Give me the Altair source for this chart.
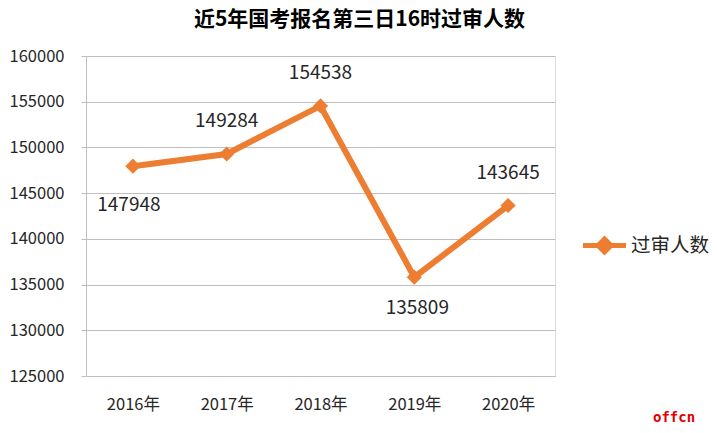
import altair as alt
import pandas as pd

years = ["2016年", "2017年", "2018年", "2019年", "2020年"]
values = [147948, 149284, 154538, 135809, 143645]
label_pos = ["below_left", "above", "above", "below", "above"]
series_name = "过审人数"
title_text = "近5年国考报名第三日16时过审人数"
y_ticks = [125000, 130000, 135000, 140000, 145000, 150000, 155000, 160000]

df = pd.DataFrame({"year": years, "value": values, "pos": label_pos,
                   "series": [series_name] * len(years)})

FONT = "Noto Sans CJK SC"
ORANGE = "#ED7D31"
TXT = "#262626"

base = alt.Chart(df)

x_enc = alt.X("year:N", sort=years, title=None,
              scale=alt.Scale(paddingInner=0, paddingOuter=0.5),
              axis=alt.Axis(labelAngle=0, labelFontSize=16.5, labelFont=FONT,
                            labelColor=TXT, ticks=False, domain=True,
                            domainColor="#BFBFBF", labelPadding=20, grid=False))
y_enc = alt.Y("value:Q", title=None,
              scale=alt.Scale(domain=[125000, 160000], nice=False, zero=False),
              axis=alt.Axis(values=y_ticks, labelFontSize=16.5, labelFont=FONT,
                            labelColor=TXT, tickSize=5, tickColor="#BFBFBF",
                            domainColor="#BFBFBF", gridColor="#BFBFBF",
                            labelPadding=17, format="d"))

line = base.mark_line(color=ORANGE, strokeWidth=6).encode(
    x=x_enc, y=y_enc,
    color=alt.Color("series:N", title=None,
                    scale=alt.Scale(range=[ORANGE]),
                    legend=alt.Legend(orient="none", legendX=494, legendY=165,
                                      symbolType="M-1,0L1,0M0,-0.3L0.3,0L0,0.3L-0.3,0Z",
                                      symbolSize=1850, symbolStrokeWidth=5,
                                      symbolFillColor=ORANGE,
                                      labelFontSize=19.5, labelFont=FONT,
                                      labelColor=TXT, labelOffset=2)))
pts = base.mark_point(shape="diamond", filled=True, size=230, color=ORANGE,
                      opacity=1).encode(x=x_enc, y=y_enc)

def labels(pos, dx, dy):
    return base.transform_filter(alt.datum.pos == pos).mark_text(
        dx=dx, dy=dy, fontSize=19, font=FONT, color=TXT).encode(
        x=x_enc, y=y_enc, text=alt.Text("value:Q", format="d"))

above = labels("above", 0, -33)
below = labels("below", 3, 31)
below_left = labels("below_left", -4, 39)

mark_wm = alt.Chart(pd.DataFrame({"t": ["offcn"]})).mark_text(
    color="#E00000", fontSize=14, font="DejaVu Sans Mono", fontWeight="bold",
    align="left").encode(x=alt.value(567), y=alt.value(362), text="t:N")

chart = alt.layer(line, pts, above, below, below_left, mark_wm).properties(
    width=469, height=320,
    title=alt.TitleParams(title_text, fontSize=21, font=FONT, fontWeight="bold",
                          color="#000000", anchor="middle", dx=39, offset=18),
    autosize=alt.AutoSizeParams(type="none"),
    padding={"left": 86, "top": 56, "right": 162, "bottom": 57},
).configure_view(stroke=None).configure(background="white")

chart.save("out.html", embed_options={"renderer": "svg", "actions": False})
